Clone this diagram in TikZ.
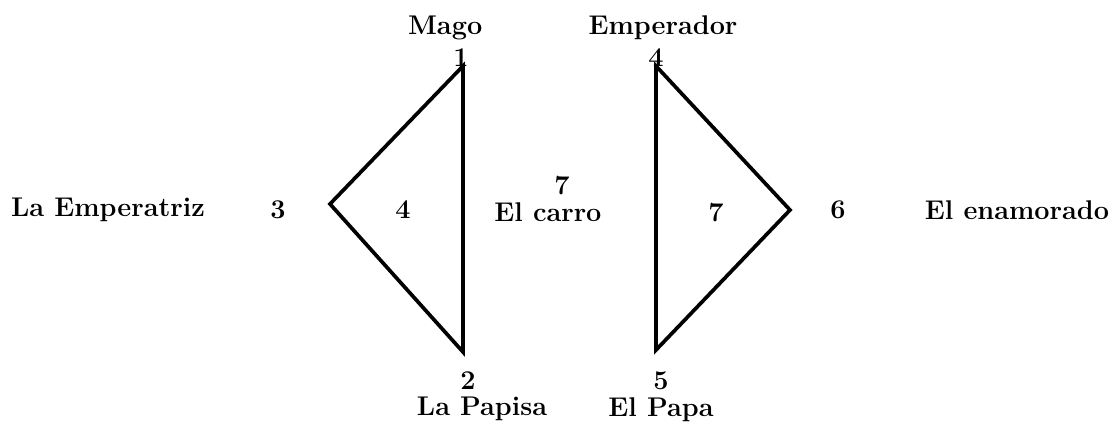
\documentclass[tikz,border=0pt]{standalone}
\usetikzlibrary{positioning}
\begin{document}
\begin{tikzpicture}[x=0.02cm, y=-0.02cm, line width=2.1pt, line join=miter,
	every node/.style={font=\bfseries\fontsize{15.4}{18}\selectfont, inner sep=1pt},
	num/.style={inner sep=0pt}]
		\useasboundingbox (0,0) rectangle (1119,428);
		% triangle vertices
		\coordinate (v1) at (463,66);
		\coordinate (v2) at (463,352);
		\coordinate (v3) at (330,204);
		\coordinate (v4) at (656,66);
		\coordinate (v5) at (656,350);
		\coordinate (v6) at (790,210);
		\draw (v1) -- (v2) -- (v3) -- cycle;
		\draw (v4) -- (v5) -- (v6) -- cycle;
		% numbers
		\node[num]	(n1)	at (461,58)	{1};
		\node[num]	(n2)	at (468,381)	{2};
		\node[num]	(n3)	at (278,210)	{3};
		\node[num]	(n4)	at (656,58)	{4};
		\node[num]	(n5)	at (661,381)	{5};
		\node[num]	(n6)	at (838,210)	{6};
		\node[num]	(n7)	at (562,186)	{7};
		\node[num]	(c4)	at (403,210)	{4};
		\node[num]	(c7)	at (716,213)	{7};
		% names
		\node	(mago)	[above = 2pt of n1, xshift=-9]	{Mago};
		\node	(emp)	[above = 2pt of n4, xshift=4]	{Emperador};
		\node	(papisa)	[below = 1pt of n2, xshift=8]	{La Papisa};
		\node	(papa)	[below = 1pt of n5]	{El Papa};
		\node	(empz)	at (108,210)	{La Emperatriz};
		\node	(enam)	at (1017,210)	{El enamorado};
		\node	(carro)	[below = 1pt of n7, xshift=-8]	{El carro};
\end{tikzpicture}
\end{document}
